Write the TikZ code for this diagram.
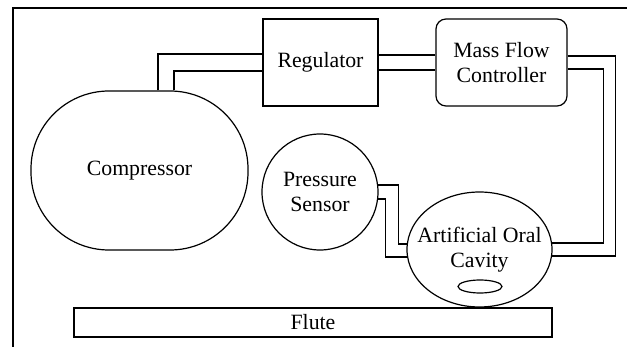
\documentclass[tikz,border=0pt]{standalone}
\usepackage{fontspec}
\setmainfont{LiberationSerif}[Extension=.ttf, UprightFont=*-Regular]
\usetikzlibrary{positioning, calc, shapes.geometric}
\tikzset{
  blk/.style={draw, line width=0.6pt, align=center, inner sep=0pt,
              font=\rmfamily\fontsize{10.9}{12.6}\selectfont},
  pipe/.style={line width=0.6pt},
  lbl/.style={align=center, font=\rmfamily\fontsize{10.9}{12.6}\selectfont},
}

\begin{document}
\begin{tikzpicture}[x=0.5pt, y=-0.5pt]
  \useasboundingbox (0,0) rectangle (627,347);

  % frame (only top and left edges show)
  \draw[pipe] (13,347) |- (627,8);

  % ===================== units ==================
  \node[blk, rounded corners=39pt, minimum width=108.5pt, minimum height=79.5pt]
    (comp) at (139.5,170.5) {Compressor};
  \node[blk, minimum width=57.5pt, minimum height=43.5pt]
    (reg) at (320.5,62.5) {Regulator};
  \node[blk, rounded corners=5pt, minimum width=65.5pt, minimum height=43.5pt]
    (mfc) at (501.5,62.5) {Mass Flow\\Controller};
  \node[blk, circle, minimum size=58pt]
    (ps) at (320,192) {Pressure\\Sensor};
  \node[blk, ellipse, minimum width=72.5pt, minimum height=57.5pt]
    (cav) at (479.5,249.5) {};
  \node[lbl] (cavtxt) at (cav.center) {Artificial Oral\\Cavity};
  \node[blk, ellipse, minimum width=22pt, minimum height=6.5pt]
    (mouth) at (480,286.5) {};
  \node[blk, minimum width=239pt, minimum height=14.5pt]
    (flute) at (313,322.5) {Flute};

  % ===================== pipes ==================
  % compressor -> regulator
  \draw[pipe] ($(comp.north)+(18.5,0)$) |- ($(reg.west)+(0,-8.5)$);
  \draw[pipe] ($(comp.north)+(34.5,0)$) |- ($(reg.west)+(0,8.5)$);
  % regulator -> mass flow controller
  \draw[pipe] ($(reg.east)+(0,-7.5)$) -- ($(mfc.west)+(0,-7.5)$);
  \draw[pipe] ($(reg.east)+(0,7.5)$) -- ($(mfc.west)+(0,7.5)$);
  % mass flow controller -> oral cavity
  \draw[pipe] ($(mfc.east)+(0,-6.5)$) -| ($(cav.east)+(63,6.5)$)
    -- ($(cav.east)+(-0.5,6.5)$);
  \draw[pipe] ($(mfc.east)+(0,6.5)$) -| ($(cav.east)+(51,-6.5)$)
    -- ($(cav.east)+(-0.5,-6.5)$);
  % pressure sensor -> oral cavity
  \draw[pipe] ($(ps.east)+(-0.4,-7)$) -| ($(cav.west)+(-8,-5.5)$)
    -- ($(cav.west)+(0.3,-5.5)$);
  \draw[pipe] ($(ps.east)+(-0.4,7)$) -| ($(cav.west)+(-21,7.5)$)
    -- ($(cav.west)+(0.5,7.5)$);
\end{tikzpicture}
\end{document}
